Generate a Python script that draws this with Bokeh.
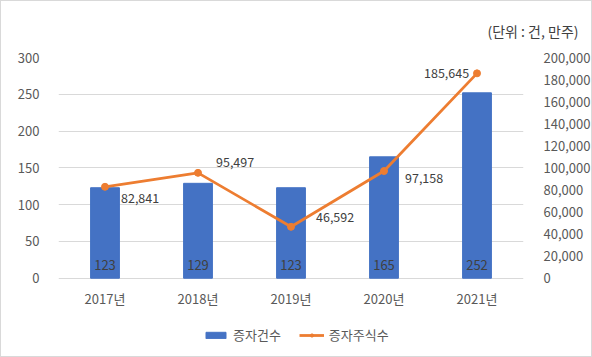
from bokeh.plotting import figure
from bokeh.models import (FactorRange, Range1d, LinearAxis, NumeralTickFormatter,
                          FixedTicker, ColumnDataSource, Legend, LegendItem, Title)
from bokeh.core.properties import value
from bokeh.embed import file_html
from bokeh.resources import INLINE

years = ["2017년", "2018년", "2019년", "2020년", "2021년"]
counts = [123, 129, 123, 165, 252]
shares = [82841, 95497, 46592, 97158, 185645]
left_ticks = [0, 50, 100, 150, 200, 250, 300]
right_ticks = [0, 20000, 40000, 60000, 80000, 100000, 120000, 140000, 160000, 180000, 200000]

# label placement (pixels) for the share labels
lab_dx = [16, 18, 25, 21, -53]
lab_dy = [11, -11, -10, 7, 0]

FONT = "Noto Sans CJK KR"
TXT = "#595959"

src = ColumnDataSource(dict(
    year=years, count=counts, share=shares,
    count_txt=[str(c) for c in counts],
    share_txt=[f"{s:,}" for s in shares],
    dx=lab_dx, dy=lab_dy,
))

# frame reaches the bottom edge so x labels and legend sit inside it
p = figure(width=592, height=357, x_range=FactorRange(*years, range_padding=0),
           y_range=Range1d(-109.1, 300), output_backend="svg", toolbar_location=None,
           min_border_left=57, min_border_right=64, min_border_top=56, min_border_bottom=0)
p.extra_y_ranges = {"y2": Range1d(-72727, 200000)}
p.outline_line_color = None
p.background_fill_color = "white"
p.border_fill_color = "white"
p.xaxis.visible = False

bars = p.vbar(x="year", top="count", width=0.31, source=src, color="#4472C4")
line = p.line(x="year", y="share", source=src, y_range_name="y2", color="#ED7D31", line_width=2.8)
circ = p.scatter(x="year", y="share", source=src, y_range_name="y2", size=7,
                 color="#ED7D31")

p.text(x="year", y=0, text="count_txt", source=src, y_offset=-13, text_align="center",
       text_baseline="middle", text_font=value(FONT), text_font_size="13px", text_color="#404040")
p.text(x="year", y="share", text="share_txt", source=src, y_range_name="y2",
       x_offset="dx", y_offset="dy", text_align="left", text_baseline="middle",
       text_font=value(FONT), text_font_size="12.5px", text_color="#404040")
# category labels
p.text(x="year", y=0, text="year", source=src, y_offset=20, text_align="center",
       text_baseline="middle", text_font=value(FONT), text_font_size="13px", text_color=TXT)

# axes
p.yaxis.ticker = FixedTicker(ticks=left_ticks)
ax = p.yaxis[0]
ax.axis_line_color = None
ax.major_tick_line_color = None
ax.minor_tick_line_color = None
ax.major_label_standoff = 13
ax.major_label_text_font = FONT
ax.major_label_text_font_size = "13px"
ax.major_label_text_color = TXT

ax2 = LinearAxis(y_range_name="y2", ticker=FixedTicker(ticks=right_ticks),
                 formatter=NumeralTickFormatter(format="0,0"))
ax2.axis_line_color = None
ax2.major_tick_line_color = None
ax2.minor_tick_line_color = None
ax2.major_label_standoff = 14
ax2.major_label_text_font = FONT
ax2.major_label_text_font_size = "13px"
ax2.major_label_text_color = TXT
p.add_layout(ax2, "right")

p.xgrid.grid_line_color = None
p.ygrid.grid_line_color = "#d9d9d9"

title = Title(text="(단위 : 건, 만주)", align="right", text_font=FONT, text_font_size="14px",
              text_font_style="normal", text_color="#404040", standoff=34, offset=-55)
p.add_layout(title, "above")

legend = Legend(items=[LegendItem(label="증자건수", renderers=[bars]),
                       LegendItem(label="증자주식수", renderers=[line, circ])],
                orientation="horizontal", location=(145, 14), border_line_color=None,
                background_fill_alpha=0, glyph_width=25, glyph_height=8, spacing=18,
                label_standoff=5, padding=0, margin=0,
                label_text_font=FONT, label_text_font_size="13px", label_text_color=TXT)
p.add_layout(legend, "center")

p.styles = {"border": "1px solid #d9d9d9", "box-sizing": "border-box"}

open("out.html", "w").write(file_html(p, INLINE))
